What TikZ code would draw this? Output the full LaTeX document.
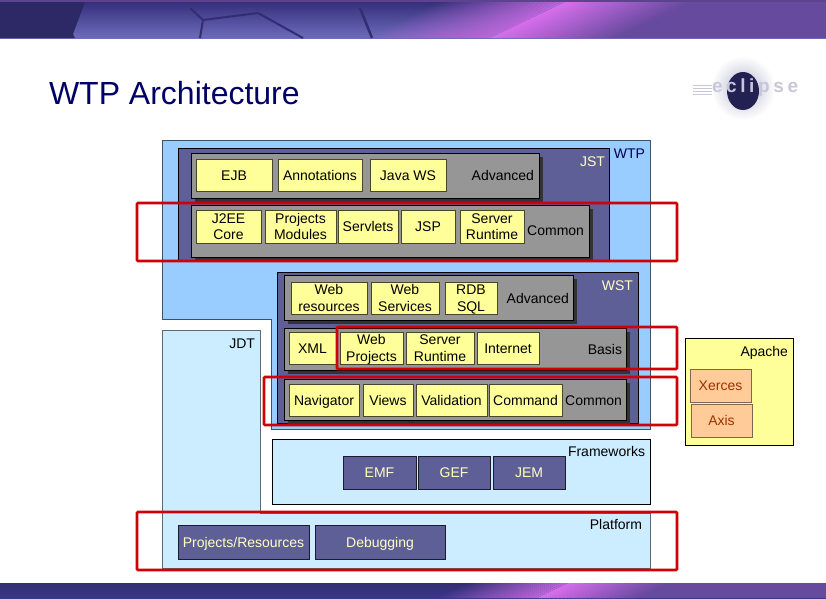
\documentclass[tikz,border=0pt]{standalone}
\usepackage{fontspec}
\setmainfont{Liberation Sans}
\usetikzlibrary{shadows}
\definecolor{wtpblue}{HTML}{99CCFF}
\definecolor{paleblue}{HTML}{CCECFF}
\definecolor{slate}{HTML}{5F5F98}
\definecolor{panelgray}{HTML}{969696}
\definecolor{shadowgray}{HTML}{333333}
\definecolor{boxyellow}{HTML}{FFFF99}
\definecolor{boxorange}{HTML}{FFCC99}
\definecolor{brick}{HTML}{993300}
\definecolor{redline}{HTML}{D00008}
\definecolor{navy}{HTML}{3A3688}
\definecolor{magenta1}{HTML}{D66EEC}
\definecolor{plum}{HTML}{664A9E}
\newcommand{\linestrut}{\rule[-3pt]{0pt}{16pt}}
\tikzset{
    every node/.style={font=\fontsize{14}{16.5}\selectfont, inner sep=0pt, outer sep=0pt, align=center,
        execute at begin node=\linestrut, execute at end node=\linestrut},
    region/.style={anchor=north west, draw=black, line width=0.7pt},
    panel/.style={anchor=north west, draw=black, line width=0.6pt, fill=panelgray,
        general shadow={fill=shadowgray, shadow xshift=4pt, shadow yshift=-3.5pt}},
    item/.style={anchor=north west, draw=black!60!boxyellow!70!black, line width=0.8pt, fill=boxyellow, text=black},
    twoline/.style={item, execute at begin node=\rule[-3pt]{0pt}{32pt}},
    bluebox/.style={anchor=north west, draw=black!70!slate, line width=0.8pt, fill=slate, text=boxyellow!60!white},
    libbox/.style={anchor=north west, draw=black!50!boxorange, line width=0.9pt, fill=boxorange, text=brick},
    tag/.style={anchor=east},
    redbox/.style={anchor=north west, draw=redline, line width=2.6pt, rounded corners=1pt}
}
\begin{document}
\begin{tikzpicture}[x=1pt, y=-1pt]
    \useasboundingbox (0,0) rectangle (826,598);

    \fill[white] (0,0) rectangle (826,598);
    \shade[top color=navy!90!black, bottom color=navy!80!blue!70!white] (0,2) rectangle (826,38);
    \fill[navy!75!black] (0,2) -- (85,2) -- (73,34) -- (75,38) -- (0,38) -- cycle;
    \fill[plum] (600,2) rectangle (826,38);
    \fill[black!10!plum] (0,0) rectangle (826,2);
    \draw[navy!85!black, line width=2pt] (190,8) -- (203,20) -- (200,38);
    \draw[navy!85!black, line width=2pt] (203,20) -- (258,13) -- (303,38);
    \draw[navy!85!black, line width=2.5pt] (360,8) -- (372,38);
    \foreach \d in {0,...,24} {
        \pgfmathsetmacro{\p}{\d*4}
        \pgfmathsetmacro{\q}{1-\d/25}
        \fill[plum!\p!magenta1] ({490+\d*5},38) -- ({565+\d*5},2) -- ({571+\d*5},2) -- ({496+\d*5},38) -- cycle;
        \fill[magenta1!75!plum, opacity=\q] ({490-\d*5},38) -- ({565-\d*5},2) -- ({560-\d*5},2) -- ({485-\d*5},38) -- cycle;
    }
    \shade[top color=navy!85!black, bottom color=navy] (0,583) rectangle (826,598);
    \fill[plum] (600,583) rectangle (826,598);
    \foreach \d in {0,...,24} {
        \pgfmathsetmacro{\p}{\d*4}
        \pgfmathsetmacro{\q}{1-\d/25}
        \fill[plum!\p!magenta1] ({537+\d*4},598) -- ({568+\d*4},583) -- ({573+\d*4},583) -- ({542+\d*4},598) -- cycle;
        \fill[magenta1!75!plum, opacity=\q] ({537-\d*4},598) -- ({568-\d*4},583) -- ({564-\d*4},583) -- ({533-\d*4},598) -- cycle;
    }

    \node[anchor=west, font=\fontsize{32}{36}\selectfont, text=blue!40!black] (title) at (49,94.5) {WTP Architecture};

    \shade[inner color=slate!45!white, outer color=white] (743,88) circle (32);
    \fill[navy!60!black] (743,91) ellipse (16 and 19);
    \draw[slate!35!white, line width=0.9pt] (693,85) -- (712,85);
    \draw[slate!35!white, line width=0.9pt] (693,88) -- (712,88);
    \draw[slate!35!white, line width=0.9pt] (693,91) -- (712,91);
    \draw[slate!35!white, line width=0.9pt] (693,94) -- (712,94);
    \node[anchor=west, text=slate!35!white, font=\fontsize{19}{22}\selectfont\bfseries\addfontfeature{LetterSpace=19}] (logo) at (712,88) {eclipse};

    \draw[fill=wtpblue, draw=black!60!wtpblue, line width=0.7pt] (162,140) -- (650,140) -- (650,429) -- (271,429) -- (271,319) -- (162,319) -- cycle;
    \node[tag, text=blue!30!black] (wtp) at (645,153) {WTP};

    \node[region, fill=slate, minimum width=431, minimum height=112] (jst) at (178,148) {};
    \node[tag, text=boxyellow!60!white] (jstname) at (605,161) {JST};
    \node[panel, minimum width=348, minimum height=45] (jstadv) at (191,153) {};
    \node[item, minimum width=76, minimum height=32] (ejb) at (196,159) {EJB};
    \node[item, minimum width=84, minimum height=32] (annotations) at (278,159) {Annotations};
    \node[item, minimum width=76, minimum height=32] (javaws) at (370,159) {Java WS};
    \node[tag] (jstadvname) at (534,175) {Advanced};
    \node[panel, minimum width=398, minimum height=52] (jstcom) at (191,205) {};
    \node[twoline, minimum width=65, minimum height=33] (j2ee) at (196,210) {J2EE\\Core};
    \node[twoline, minimum width=71, minimum height=33] (projects) at (265,210) {Projects\\Modules};
    \node[item, minimum width=60, minimum height=33] (servlets) at (338,210) {Servlets};
    \node[item, minimum width=54, minimum height=33] (jsp) at (401,210) {JSP};
    \node[twoline, minimum width=64, minimum height=33] (jstserver) at (460,210) {Server\\Runtime};
    \node[tag] (jstcomname) at (584,230) {Common};

    \node[region, fill=slate, minimum width=361, minimum height=151] (wst) at (277,272) {};
    \node[tag, text=boxyellow!60!white] (wstname) at (633,285) {WST};
    \node[panel, minimum width=289, minimum height=45] (wstadv) at (284,275) {};
    \node[twoline, minimum width=76, minimum height=32] (webres) at (291,282) {Web\\resources};
    \node[twoline, minimum width=68, minimum height=32] (webserv) at (371,282) {Web\\Services};
    \node[twoline, minimum width=52, minimum height=32] (rdb) at (445,282) {RDB\\SQL};
    \node[tag] (wstadvname) at (569,298) {Advanced};
    \node[panel, minimum width=342, minimum height=42] (basis) at (284,328) {};
    \node[item, minimum width=47, minimum height=32] (xml) at (289,332) {XML};
    \node[twoline, minimum width=63, minimum height=32] (webproj) at (340,332) {Web\\Projects};
    \node[twoline, minimum width=68, minimum height=32] (wstserver) at (406,332) {Server\\Runtime};
    \node[item, minimum width=62, minimum height=32] (internet) at (477,332) {Internet};
    \node[tag] (basisname) at (622,349) {Basis};
    \node[panel, minimum width=342, minimum height=41] (wstcom) at (284,379) {};
    \node[item, minimum width=70, minimum height=32] (navigator) at (289,384) {Navigator};
    \node[item, minimum width=50, minimum height=32] (views) at (363,384) {Views};
    \node[item, minimum width=71, minimum height=32] (validation) at (416,384) {Validation};
    \node[item, minimum width=73, minimum height=32] (command) at (489,384) {Command};
    \node[tag] (wstcomname) at (622,400) {Common};

    \node[region, fill=paleblue, minimum width=378, minimum height=65] (frameworks) at (272,439) {};
    \node[tag] (frameworksname) at (645,451) {Frameworks};
    \node[bluebox, minimum width=73, minimum height=33] (emf) at (343,456) {EMF};
    \node[bluebox, minimum width=72, minimum height=33] (gef) at (418,456) {GEF};
    \node[bluebox, minimum width=72, minimum height=33] (jem) at (493,456) {JEM};

    \draw[fill=paleblue, draw=black!55!paleblue, line width=0.7pt] (162,330) -- (260,330) -- (260,513) -- (650,513) -- (650,568) -- (162,568) -- cycle;
    \node[tag] (jdt) at (255,343) {JDT};
    \node[tag] (platform) at (642,524) {Platform};
    \node[bluebox, minimum width=131, minimum height=34] (resources) at (178,525) {Projects/Resources};
    \node[bluebox, minimum width=130, minimum height=34] (debugging) at (315,525) {Debugging};

    \node[region, fill=boxyellow, minimum width=108, minimum height=107] (apache) at (685,338) {};
    \node[tag] (apachename) at (788,351) {Apache};
    \node[libbox, minimum width=61, minimum height=33] (xerces) at (690,369) {Xerces};
    \node[libbox, minimum width=61, minimum height=33] (axis) at (691,404) {Axis};

    \node[redbox, minimum width=540, minimum height=58] (redjst) at (137,203) {};
    \node[redbox, minimum width=340, minimum height=42] (redbasis) at (337,327) {};
    \node[redbox, minimum width=413, minimum height=48] (redcommon) at (264,377) {};
    \node[redbox, minimum width=540, minimum height=58] (redplatform) at (137,512) {};
\end{tikzpicture}
\end{document}
